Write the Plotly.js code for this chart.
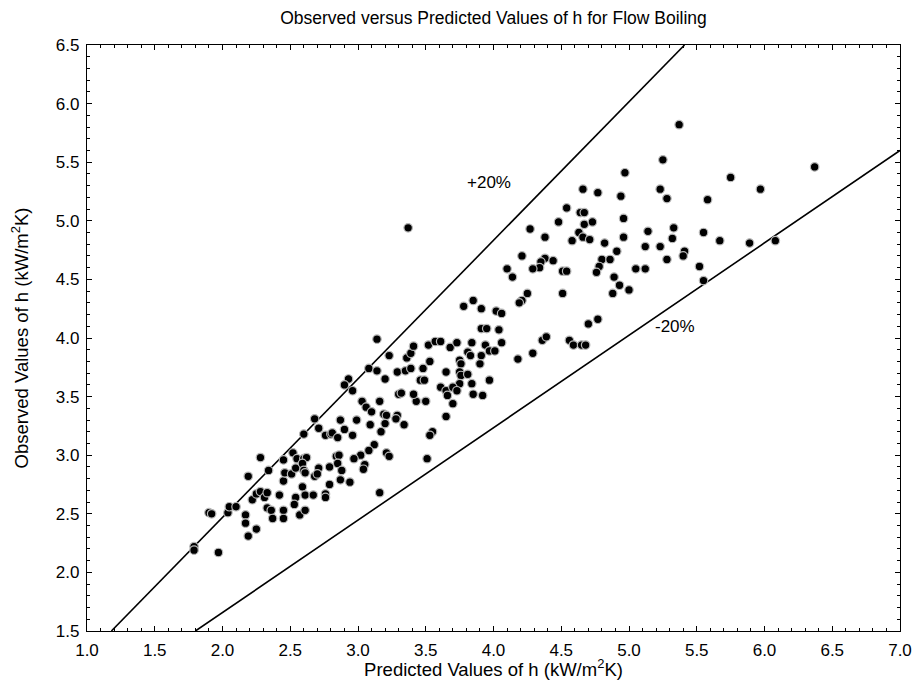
<!DOCTYPE html>
<html>
<head>
<meta charset="utf-8">
<script src="https://cdn.plot.ly/plotly-3.0.1.min.js"></script>
<style>html,body{margin:0;padding:0;background:#fff;}#chart{width:912px;height:680px;}</style>
</head>
<body>
<div id="chart"></div>
<script>
// Predicted (x) and observed (y) values of h, kW/m2K
const predicted = [
1.79,1.79,1.90,1.92,1.97,2.04,2.05,2.10,2.19,2.17,2.17,2.19,2.25,2.28,2.34,2.22,2.25,2.28,2.31,2.33,2.33,2.36,2.37,2.42,2.45,2.45,2.46,2.45,2.45,2.52,2.51,2.54,2.55,2.54,2.53,2.57,2.61,
2.60,2.68,2.71,2.76,2.80,2.81,2.85,2.87,2.90,2.96,2.99,3.03,3.06,3.10,3.16,3.19,3.21,3.29,3.28,3.20,3.09,3.34,3.17,3.12,3.08,3.02,2.97,3.21,3.23,3.05,3.04,3.43,3.50,3.70,3.65,3.55,3.53,3.51,3.16,
2.60,2.62,2.59,2.60,2.61,2.59,2.61,2.67,2.71,2.68,2.70,2.79,2.84,2.86,2.85,2.88,2.87,2.79,2.76,2.76,2.94,
3.14,3.23,3.08,3.14,3.20,2.93,2.90,2.96,3.29,3.35,3.39,3.36,3.39,3.41,3.48,3.46,3.49,3.53,3.52,3.57,3.61,3.68,3.73,3.65,3.75,3.76,3.75,3.76,3.81,3.75,3.84,3.61,3.65,3.70,3.66,3.73,3.85,3.92,
3.78,3.85,3.91,3.84,3.81,3.83,3.91,3.90,3.94,3.30,3.32,3.41,
4.54,4.64,4.67,4.48,4.67,4.73,4.96,4.27,4.38,4.63,4.66,4.71,4.58,4.82,4.91,4.96,5.14,4.21,4.38,4.35,4.34,4.29,4.44,4.51,4.54,4.10,4.14,4.80,4.86,4.78,4.76,4.89,4.93,5.00,4.88,5.05,5.12,4.25,4.21,4.19,4.51,
4.02,4.06,3.91,3.95,4.04,3.97,4.01,4.06,4.18,4.29,4.36,4.39,4.56,4.59,4.65,4.68,4.70,4.77,3.97,
5.37,5.25,4.97,5.75,5.97,4.77,4.94,5.23,5.28,5.58,4.66,5.33,5.32,5.23,5.12,5.55,5.67,5.89,5.28,5.41,5.40,5.52,5.55,
6.37,6.08,3.37
];
const observed = [
2.22,2.19,2.51,2.50,2.17,2.51,2.56,2.56,2.82,2.49,2.42,2.31,2.37,2.98,2.87,2.62,2.67,2.69,2.64,2.68,2.55,2.53,2.46,2.66,2.96,2.78,2.85,2.53,2.46,3.02,2.84,2.89,2.97,2.64,2.58,2.49,2.53,
3.18,3.31,3.23,3.17,3.18,3.19,3.15,3.30,3.22,3.17,3.30,3.46,3.41,3.37,3.46,3.35,3.34,3.34,3.31,3.27,3.26,3.26,3.20,3.09,3.04,3.00,2.97,3.02,2.99,2.92,2.88,3.46,3.46,3.44,3.33,3.20,3.17,2.97,2.68,
2.97,2.98,2.93,2.87,2.85,2.73,2.66,2.66,2.89,2.82,2.84,2.90,2.99,3.00,2.93,2.87,2.79,2.75,2.67,2.64,2.77,
3.99,3.85,3.74,3.72,3.65,3.65,3.60,3.55,3.71,3.72,3.74,3.83,3.87,3.93,3.74,3.64,3.64,3.80,3.94,3.97,3.97,3.92,3.96,3.71,3.81,3.78,3.71,3.68,3.69,3.61,3.61,3.58,3.55,3.58,3.51,3.55,3.52,3.51,
4.27,4.32,4.25,3.96,3.88,3.85,3.85,3.78,3.94,3.52,3.53,3.52,
5.11,5.07,5.07,4.99,4.97,4.99,5.02,4.93,4.86,4.90,4.86,4.84,4.83,4.81,4.74,4.86,4.91,4.70,4.68,4.65,4.60,4.59,4.66,4.57,4.57,4.59,4.52,4.67,4.67,4.61,4.56,4.52,4.45,4.41,4.38,4.59,4.59,4.38,4.32,4.30,4.38,
4.23,4.21,4.08,4.08,4.07,3.89,3.89,3.96,3.82,3.87,3.98,4.01,3.98,3.94,3.94,3.94,4.12,4.16,3.64,
5.82,5.52,5.41,5.37,5.27,5.24,5.21,5.27,5.19,5.18,5.27,4.94,4.85,4.78,4.78,4.90,4.83,4.81,4.67,4.74,4.70,4.61,4.49,
5.46,4.83,4.94
];
// +20% and -20% bounding lines
const upperX = [1.18, 5.41];
const upperY = [1.5, 6.5];
const lowerX = [1.80, 7.0];
const lowerY = [1.5, 5.60];
const lineLabels = ["+20%", "-20%"];
const labelX = [3.97, 5.34];
const labelY = [5.33, 4.10];

const FONT = "Liberation Sans, Arial, sans-serif";
const traces = [
  {x: upperX, y: upperY, mode: "lines", line: {color: "#000", width: 1.6}, hoverinfo: "skip", showlegend: false},
  {x: lowerX, y: lowerY, mode: "lines", line: {color: "#000", width: 1.6}, hoverinfo: "skip", showlegend: false},
  {x: predicted, y: observed, mode: "markers", type: "scatter",
   marker: {size: 8.5, color: "#000", line: {color: "#b8b8b8", width: 1.2}}, showlegend: false}
];
const axisCommon = {
  showline: true, linecolor: "#000", linewidth: 1.2, mirror: "allticks",
  ticks: "inside", ticklen: 5, tickcolor: "#000", tickwidth: 1,
  showgrid: false, zeroline: false, tickformat: ".1f",
  tickfont: {family: FONT, size: 17, color: "#000"},
  minor: {dtick: 0.1, ticks: "inside", ticklen: 3, tickcolor: "#000", tickwidth: 1}
};
const layout = {
  width: 912, height: 680,
  margin: {l: 87, r: 12, t: 45, b: 49},
  paper_bgcolor: "#fff", plot_bgcolor: "#fff",
  font: {family: FONT, color: "#000"},
  title: {text: "Observed versus Predicted Values of h for Flow Boiling", font: {family: FONT, size: 17.5, color: "#000"},
          x: 0.5, xref: "paper", y: 0.973, yref: "container", yanchor: "middle"},
  xaxis: Object.assign({}, axisCommon, {range: [1, 7], tick0: 1, dtick: 0.5, ticklabelstandoff: 3,
    title: {text: "Predicted Values of h (kW/m<sup>2</sup>K)", font: {family: FONT, size: 18.5, color: "#000"}, standoff: 2}}),
  yaxis: Object.assign({}, axisCommon, {range: [1.5, 6.5], tick0: 1.5, dtick: 0.5, ticklabelstandoff: 3,
    title: {text: "Observed Values of h (kW/m<sup>2</sup>K)", font: {family: FONT, size: 18.5, color: "#000"}, standoff: 22}}),
  annotations: lineLabels.map((t, i) => ({x: labelX[i], y: labelY[i], xref: "x", yref: "y", text: t, showarrow: false,
    font: {family: FONT, size: 17, color: "#000"}}))
};
Plotly.newPlot("chart", traces, layout, {displayModeBar: false, staticPlot: true});
</script>
</body>
</html>
